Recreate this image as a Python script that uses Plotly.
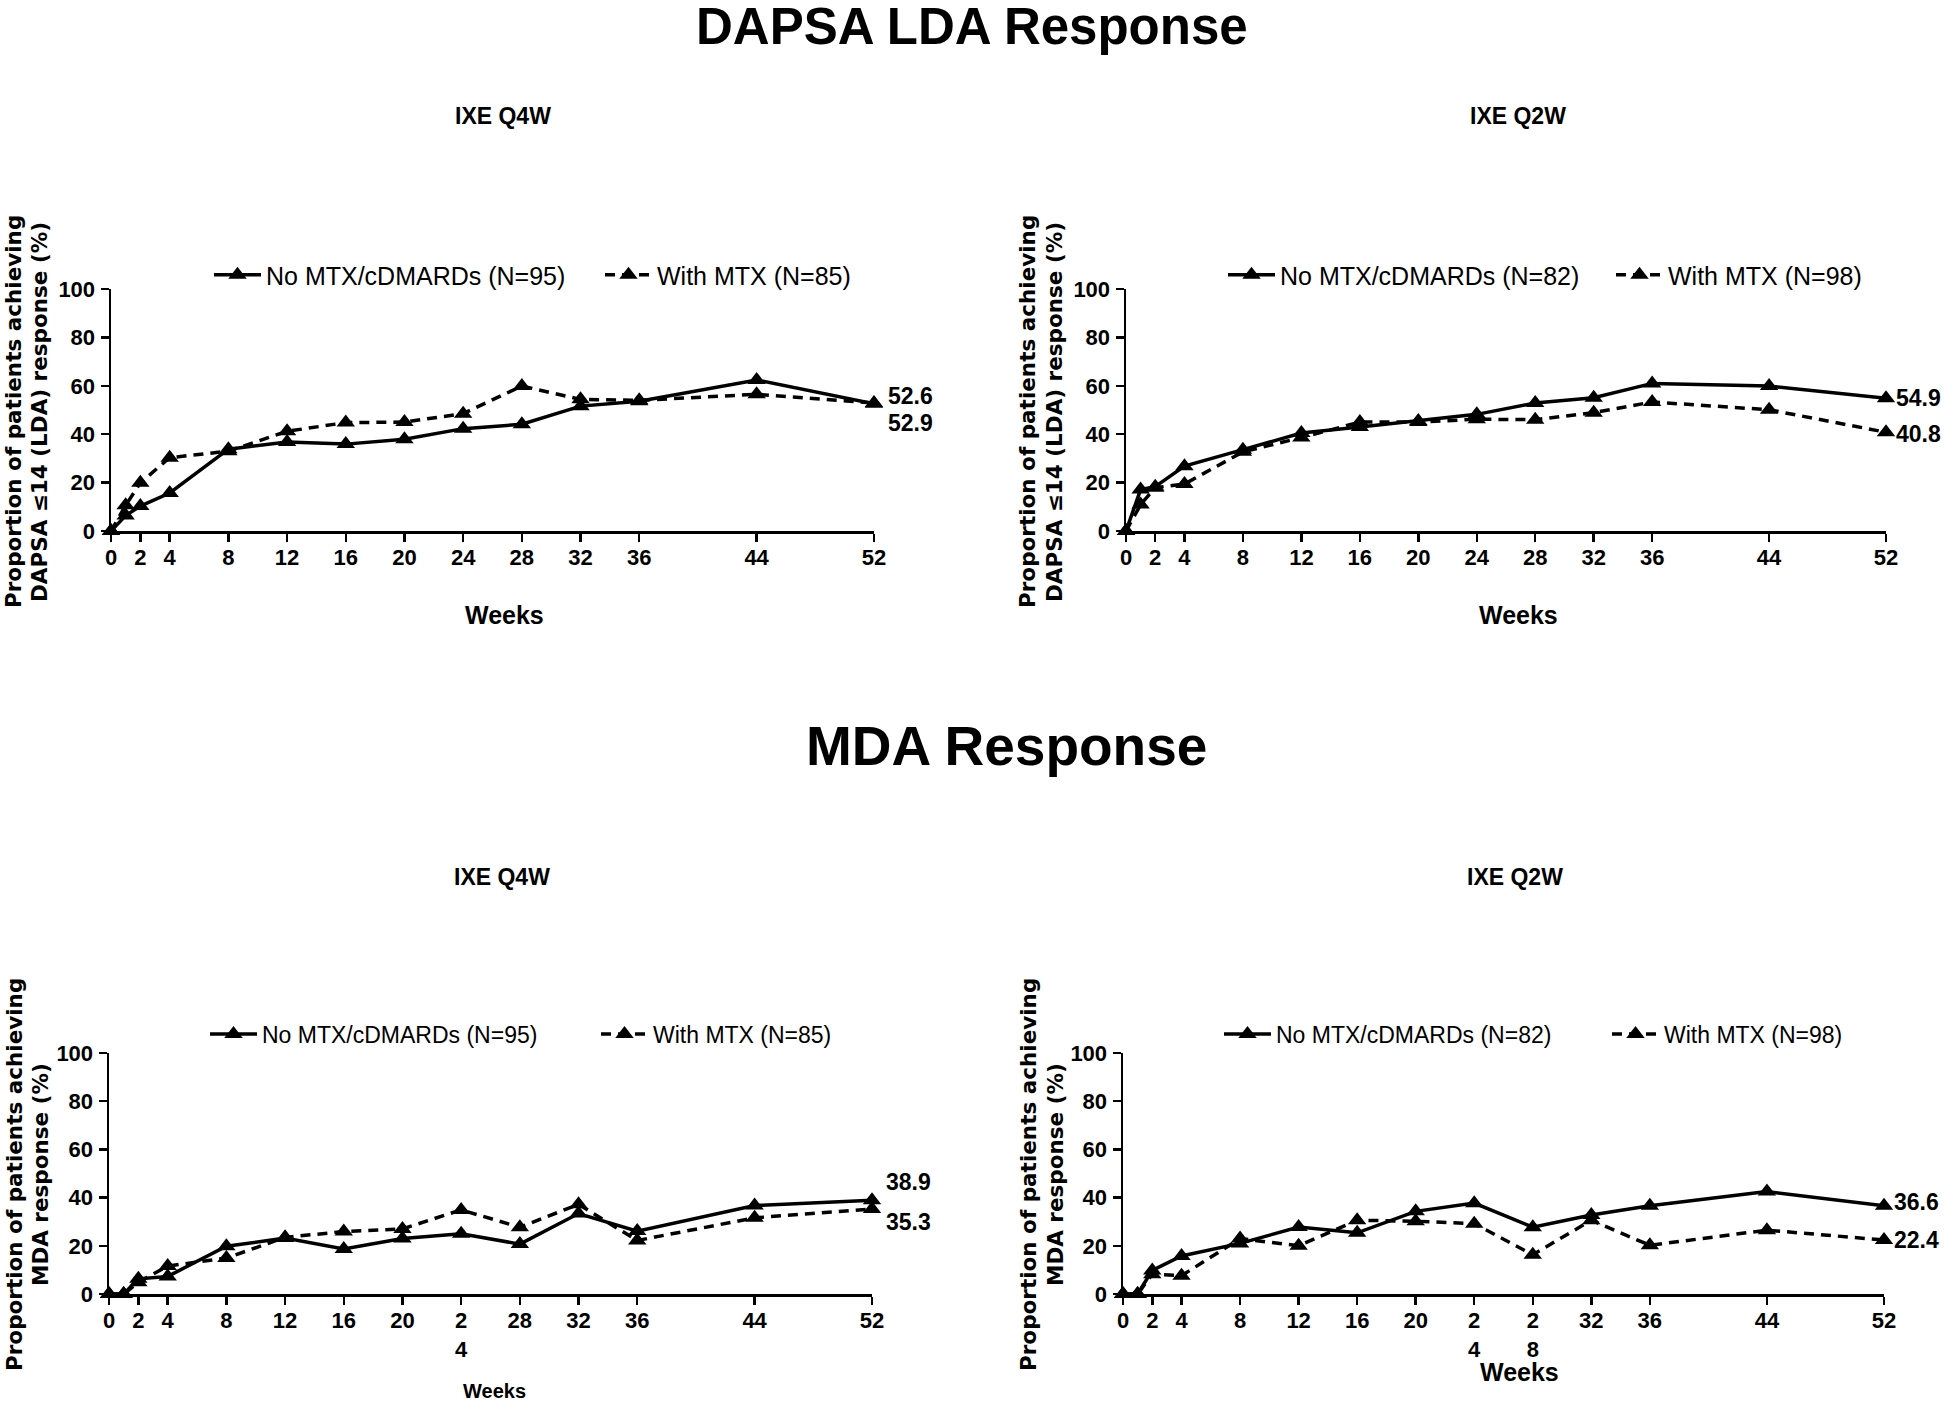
import plotly.graph_objects as go

W, H = 1946, 1403
OFF = 0                      # body margin is removed by the post script below
FW, FH = W - OFF, H - OFF

# ---------------- data ----------------
weeks = [0, 1, 2, 4, 8, 12, 16, 20, 24, 28, 32, 36, 44, 52]

dapsa_q4w_no = [0, 6.4, 10.3, 15.7, 33.8, 36.8, 35.9, 37.9, 42.3, 44.1, 51.6, 53.6, 62.4, 52.6]
dapsa_q4w_mtx = [0, 10.6, 19.9, 30.3, 33.0, 41.2, 44.8, 45.0, 48.5, 59.9, 54.4, 54.0, 56.5, 52.9]
dapsa_q2w_no = [0, 17.1, 18.3, 26.8, 33.6, 40.5, 43.0, 45.5, 48.2, 52.9, 55.1, 61.0, 59.9, 54.9]
dapsa_q2w_mtx = [0, 10.9, 17.9, 19.4, 32.7, 38.6, 45.0, 45.0, 46.2, 46.0, 48.9, 53.3, 50.1, 40.8]
mda_q4w_no = [0, 0, 6.3, 7.3, 19.8, 23.2, 18.7, 23.0, 25.0, 20.7, 33.4, 26.1, 36.7, 38.9]
mda_q4w_mtx = [0, 0, 4.9, 11.6, 14.9, 23.5, 25.9, 27.0, 34.9, 27.7, 37.2, 22.2, 31.6, 35.3]
mda_q2w_no = [0, 0, 9.8, 15.8, 21.0, 27.8, 25.4, 34.3, 37.7, 27.7, 32.8, 36.6, 42.5, 36.6]
mda_q2w_mtx = [0, 0, 8.2, 7.6, 23.0, 20.0, 30.6, 30.2, 29.2, 16.3, 30.6, 20.2, 26.5, 22.4]

tick_vals = [0, 2, 4, 8, 12, 16, 20, 24, 28, 32, 36, 44, 52]
tick_text_plain = ["0", "2", "4", "8", "12", "16", "20", "24", "28", "32", "36", "44", "52"]
tick_text_bl = ["0", "2", "4", "8", "12", "16", "20", "2<br>4", "28", "32", "36", "44", "52"]
tick_text_br = ["0", "2", "4", "8", "12", "16", "20", "2<br>4", "2<br>8", "32", "36", "44", "52"]
y_ticks = [0, 20, 40, 60, 80, 100]

names_q4w = ["No MTX/cDMARDs (N=95)", "With MTX (N=85)"]
names_q2w = ["No MTX/cDMARDs (N=82)", "With MTX (N=98)"]

FONT = "Liberation Sans, Arial, sans-serif"
YFONT = "DejaVu Sans, Verdana, sans-serif"


def px(x):
    return (x - OFF) / FW


def py(y):
    return 1 - (y - OFF) / FH


panels = [
    dict(no=dapsa_q4w_no, mtx=dapsa_q4w_mtx, names=names_q4w, tt=tick_text_plain,
         xd=(111, 874), yd=(531, 289), leg=(215, 606), legy=275, lfs=25),
    dict(no=dapsa_q2w_no, mtx=dapsa_q2w_mtx, names=names_q2w, tt=tick_text_plain,
         xd=(1126, 1886), yd=(531, 289), leg=(1229, 1617), legy=275, lfs=25),
    dict(no=mda_q4w_no, mtx=mda_q4w_mtx, names=names_q4w, tt=tick_text_bl,
         xd=(109, 872), yd=(1294, 1053), leg=(211, 602), legy=1034, lfs=23),
    dict(no=mda_q2w_no, mtx=mda_q2w_mtx, names=names_q2w, tt=tick_text_br,
         xd=(1123, 1884), yd=(1294, 1053), leg=(1225, 1613), legy=1034, lfs=23),
]

fig = go.Figure()
layout = dict(
    width=FW, height=FH, autosize=False,
    margin=dict(l=0, r=0, t=0, b=0, pad=0, autoexpand=False),
    paper_bgcolor="white", plot_bgcolor="white",
    font=dict(family=FONT, color="black"),
    showlegend=True,
)

leg_idx = 0
for i, p in enumerate(panels):
    suffix = "" if i == 0 else str(i + 1)
    xa, ya = "x" + suffix, "y" + suffix
    for k, (data, name, dash) in enumerate([(p["no"], p["names"][0], "solid"),
                                             (p["mtx"], p["names"][1], "10px,7px")]):
        leg_idx += 1
        lg = "legend" if leg_idx == 1 else "legend%d" % leg_idx
        fig.add_trace(go.Scatter(
            x=weeks, y=data, name=name, mode="lines+markers",
            line=dict(color="black", width=3.5, dash=dash),
            marker=dict(symbol="triangle-up", size=16, color="black"),
            xaxis=xa, yaxis=ya, legend=lg, cliponaxis=False,
        ))
        layout[lg] = dict(
            x=px(p["leg"][k] - 6), y=py(p["legy"]), xanchor="left", yanchor="middle",
            orientation="h", bgcolor="rgba(0,0,0,0)", borderwidth=0,
            font=dict(family=FONT, size=p["lfs"], color="black"),
            itemwidth=47,
        )
    layout["xaxis" + suffix] = dict(
        domain=[px(p["xd"][0]), px(p["xd"][1])], anchor=ya, range=[0, 52],
        tickmode="array", tickvals=tick_vals, ticktext=p["tt"],
        showline=True, linecolor="black", linewidth=2.5, mirror=False,
        ticks="outside", ticklen=8, tickwidth=2.5, tickcolor="black",
        showgrid=False, zeroline=False, fixedrange=True, automargin=False,
        tickfont=dict(family=FONT, size=22, color="black", weight="bold"),
        ticklabelstandoff=-3,
    )
    layout["yaxis" + suffix] = dict(
        domain=[py(p["yd"][0]), py(p["yd"][1])], anchor=xa, range=[0, 100],
        tickmode="array", tickvals=y_ticks,
        showline=True, linecolor="black", linewidth=2.5,
        ticks="outside", ticklen=8, tickwidth=2.5, tickcolor="black",
        showgrid=False, zeroline=False, fixedrange=True, automargin=False,
        tickfont=dict(family=FONT, size=22, color="black", weight="bold"),
        ticklabelstandoff=1,
    )

annotations = []


def ann(text, x, y, size, bold=True, angle=0, family=FONT):
    annotations.append(dict(
        text=text, x=px(x), y=py(y), xref="paper", yref="paper",
        showarrow=False, textangle=angle, xanchor="center", yanchor="middle",
        font=dict(family=family, size=size, color="black", weight="bold" if bold else "normal")))


# main titles
ann("DAPSA LDA Response", 972, 27, 51)
ann("MDA Response", 1006, 746, 55)
# subplot titles
ann("IXE Q4W", 503, 116, 23)
ann("IXE Q2W", 1518, 116, 23)
ann("IXE Q4W", 502, 877, 23)
ann("IXE Q2W", 1515, 877, 23)
# x axis titles
ann("Weeks", 505, 615, 25)
ann("Weeks", 1518, 615, 25)
ann("Weeks", 494, 1391, 20)
ann("Weeks", 1519, 1372, 25)
# y axis titles
for (x1, x2, yc, l2) in [(14, 40, 412, "DAPSA \u226414 (LDA) response (%)"),
                         (1028, 1055, 412, "DAPSA \u226414 (LDA) response (%)"),
                         (14, 40, 1175, "MDA response (%)"),
                         (1028, 1055, 1175, "MDA response (%)")]:
    ann("Proportion of patients achieving", x1, yc, 21.5, angle=-90, family=YFONT)
    ann(l2, x2, yc, 21.5, angle=-90, family=YFONT)

# end-value labels (anchored at the last data point)
end_labels = [
    ("x", "y", dapsa_q4w_no[-1], "52.6", 8, 36),
    ("x", "y", dapsa_q4w_mtx[-1], "52.9", -20, 36),
    ("x2", "y2", dapsa_q2w_no[-1], "54.9", 0, 32),
    ("x2", "y2", dapsa_q2w_mtx[-1], "40.8", -2, 32),
    ("x3", "y3", mda_q4w_no[-1], "38.9", 18, 36),
    ("x3", "y3", mda_q4w_mtx[-1], "35.3", -13, 36),
    ("x4", "y4", mda_q2w_no[-1], "36.6", 4, 32),
    ("x4", "y4", mda_q2w_mtx[-1], "22.4", 0, 32),
]
for xa, ya, val, txt, ys, xs in end_labels:
    annotations.append(dict(
        text=txt, x=weeks[-1], y=val, xref=xa, yref=ya, showarrow=False,
        xanchor="center", yanchor="middle", xshift=xs, yshift=ys,
        font=dict(family=FONT, size=23, color="black", weight="bold")))

layout["annotations"] = annotations
fig.update_layout(**layout)
fig.write_html("out.html",
               config={"displayModeBar": False, "staticPlot": True},
               post_script="document.body.style.margin='0';document.body.style.overflow='hidden';")
